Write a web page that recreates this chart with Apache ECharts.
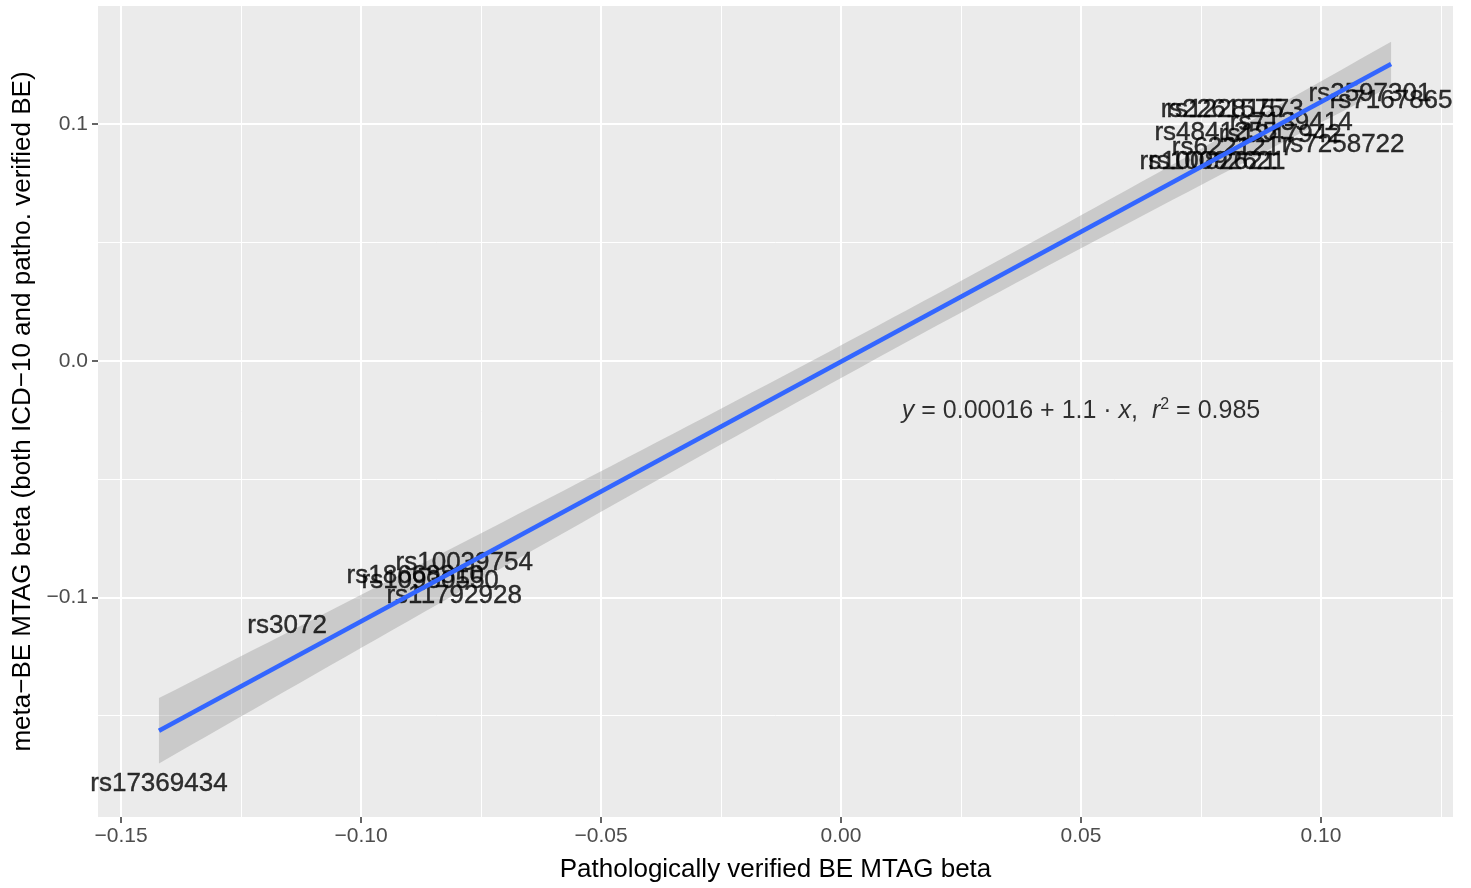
<!DOCTYPE html>
<html><head><meta charset="utf-8">
<script src="https://cdn.jsdelivr.net/npm/echarts@6/dist/echarts.min.js"></script>
<style>html,body{margin:0;padding:0;background:#fff}#c{width:1471px;height:888px}</style>
</head><body><div id="c"></div>
<script>
// ---- data ----
const snpNames = ['rs17369434','rs3072','rs10039754','rs18668810','rs10930550','rs11792928',
  'rs2597301','rs7167865','rs2261575','rs12281573','rs7139414','rs4841255','rs1247942',
  'rs6221217','rs7258722','rs10082621','rs10092621'];
const pathoBeta = [-0.1421,-0.1154,-0.0785,-0.0887,-0.0856,-0.0806,
  0.1102,0.1146,0.0794,0.0821,0.0938,0.0781,0.0915,
  0.0817,0.1046,0.0765,0.0783];
const metaBeta = [-0.1781,-0.1112,-0.0846,-0.0901,-0.0922,-0.0985,
  0.1137,0.1107,0.1070,0.1070,0.1015,0.0973,0.0964,
  0.0910,0.0922,0.0851,0.0851];
const xMajorTicks = [-0.15,-0.10,-0.05,0,0.05,0.10];
const xMinorTicks = [-0.125,-0.075,-0.025,0.025,0.075,0.125];
const yMajorTicks = [-0.1,0,0.1];
const yMinorTicks = [-0.15,-0.05,0.05];
const xRange = [-0.1548, 0.1275];
const yRange = [-0.1928, 0.1499];
const xTitle = 'Pathologically verified BE MTAG beta';
const yTitle = 'meta\u2212BE MTAG beta (both ICD\u221210 and patho. verified BE)';
const eqPos = [0.0500, -0.0206];
const eqText = '{i|y} = 0.00016 + 1.1 \u00b7 {i|x},  {i|r}{sup|2} = 0.985';

// ---- linear fit (like geom_smooth(method="lm")) ----
const n = pathoBeta.length;
const mx = pathoBeta.reduce((s,v)=>s+v,0)/n;
const my = metaBeta.reduce((s,v)=>s+v,0)/n;
let sxx=0, sxy=0, syy=0;
for (let i=0;i<n;i++){const dx=pathoBeta[i]-mx, dy=metaBeta[i]-my; sxx+=dx*dx; sxy+=dx*dy; syy+=dy*dy;}
const slope = sxy/sxx, icpt = my - slope*mx;
const sRes = Math.sqrt((syy - slope*sxy)/(n-2));
function tQuant975(nu){
  const z=1.959963985, z2=z*z;
  const g1=(z2*z+z)/4, g2=(5*z2*z2*z+16*z2*z+3*z)/96,
        g3=(3*Math.pow(z,7)+19*Math.pow(z,5)+17*z2*z-15*z)/384,
        g4=(79*Math.pow(z,9)+776*Math.pow(z,7)+1482*Math.pow(z,5)-1920*z2*z-945*z)/92160;
  return z+g1/nu+g2/(nu*nu)+g3/Math.pow(nu,3)+g4/Math.pow(nu,4);
}
const tq = tQuant975(n-2);
const xMin = Math.min(...pathoBeta), xMax = Math.max(...pathoBeta);
const band = [];
for (let k=0;k<80;k++){
  const x = xMin + (xMax-xMin)*k/79;
  const yh = icpt + slope*x;
  const se = sRes*Math.sqrt(1/n + (x-mx)*(x-mx)/sxx);
  band.push([x, yh - tq*se, yh + tq*se]);
}

const FONT = 'Liberation Sans, Arial, Helvetica, sans-serif';
const minusFmt = d => v => (v < -1e-12 ? '\u2212' : '') + Math.abs(v).toFixed(d);

const chart = echarts.init(document.getElementById('c'), null, {renderer:'canvas'});
chart.setOption({
  animation:false,
  backgroundColor:'#FFFFFF',
  grid:{left:98, right:18, top:6, bottom:68, show:true, backgroundColor:'#EBEBEB', borderWidth:0, containLabel:false},
  xAxis:[{
    type:'value', min:xRange[0], max:xRange[1], gridIndex:0, position:'bottom',
    axisLine:{show:false, onZero:false},
    axisTick:{show:true, length:6, lineStyle:{color:'#333333', width:1.5}, customValues:xMajorTicks},
    axisLabel:{show:true, customValues:xMajorTicks, formatter:minusFmt(2), color:'#4D4D4D', fontSize:21, fontFamily:FONT, margin:9,
      showMinLabel:true, showMaxLabel:true},
    splitLine:{show:true, lineStyle:{color:'#FFFFFF', width:2}},
    name:xTitle, nameLocation:'middle', nameGap:40,
    nameTextStyle:{color:'#000', fontSize:26, fontFamily:FONT}
  },{
    type:'value', min:xRange[0], max:xRange[1], gridIndex:0, position:'bottom',
    axisLine:{show:false, onZero:false}, axisLabel:{show:false},
    axisTick:{show:false, customValues:xMinorTicks},
    splitLine:{show:true, lineStyle:{color:'#FFFFFF', width:1}}
  }],
  yAxis:[{
    type:'value', min:yRange[0], max:yRange[1], gridIndex:0, position:'left',
    axisLine:{show:false, onZero:false},
    axisTick:{show:true, length:6, lineStyle:{color:'#333333', width:1.5}, customValues:yMajorTicks},
    axisLabel:{show:true, customValues:yMajorTicks, formatter:minusFmt(1), color:'#4D4D4D', fontSize:21, fontFamily:FONT, margin:10},
    splitLine:{show:true, lineStyle:{color:'#FFFFFF', width:2}},
    name:yTitle, nameLocation:'middle', nameGap:62, nameRotate:90,
    nameTextStyle:{color:'#000', fontSize:26, fontFamily:FONT}
  },{
    type:'value', min:yRange[0], max:yRange[1], gridIndex:0, position:'left',
    axisLine:{show:false, onZero:false}, axisLabel:{show:false},
    axisTick:{show:false, customValues:yMinorTicks},
    splitLine:{show:true, lineStyle:{color:'#FFFFFF', width:1}}
  }],
  series:[
    {
      type:'custom', xAxisIndex:0, yAxisIndex:0, silent:true, z:2,
      data:[[xMin, icpt + slope*xMin]],
      renderItem:function(params, api){
        const pts=[];
        for (const b of band) pts.push(api.coord([b[0], b[2]]));
        for (let k=band.length-1;k>=0;k--) pts.push(api.coord([band[k][0], band[k][1]]));
        return {type:'polygon', shape:{points:pts}, style:{fill:'rgba(153,153,153,0.4)'}};
      }
    },
    {
      type:'scatter', xAxisIndex:0, yAxisIndex:0, silent:true, z:3,
      symbol:'circle', symbolSize:1, itemStyle:{color:'rgba(0,0,0,0)'},
      data: snpNames.map((nm,i)=>({name:nm, value:[pathoBeta[i], metaBeta[i]]})),
      label:{show:true, position:'inside', offset:[0,2], formatter:'{b}', color:'#000', fontSize:26, fontFamily:FONT,
        textBorderColor:'#000', textBorderWidth:0.4},
      emphasis:{disabled:true}
    },
    {
      type:'line', xAxisIndex:0, yAxisIndex:0, silent:true, z:5, symbol:'none',
      data:[[xMin, icpt + slope*xMin],[xMax, icpt + slope*xMax]],
      lineStyle:{color:'#3366FF', width:4.5}
    },
    {
      type:'scatter', xAxisIndex:0, yAxisIndex:0, silent:true, z:6,
      symbol:'circle', symbolSize:1, itemStyle:{color:'rgba(0,0,0,0)'},
      data:[{value:eqPos}],
      label:{show:true, position:'inside', offset:[0,2], formatter:eqText, color:'#000', fontSize:25, fontFamily:FONT, lineHeight:30,
        rich:{
          i:{fontStyle:'italic', fontSize:25, fontFamily:FONT, color:'#000', lineHeight:30},
          sup:{fontSize:16, fontFamily:FONT, color:'#000', verticalAlign:'top', lineHeight:16}
        }},
      emphasis:{disabled:true}
    }
  ]
});
</script>
</body></html>
